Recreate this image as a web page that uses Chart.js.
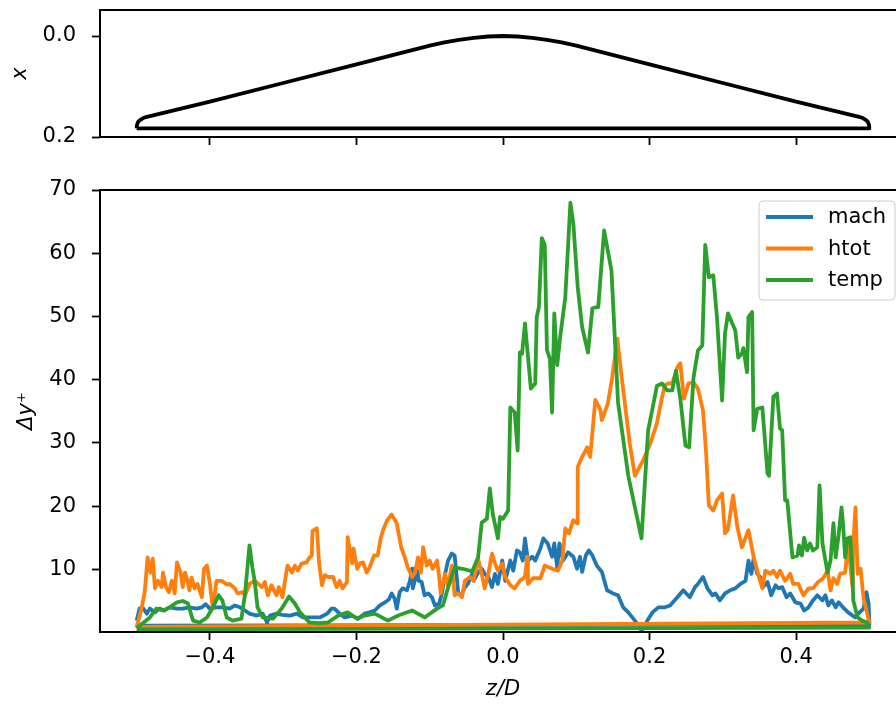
<!DOCTYPE html>
<html>
<head>
<meta charset="utf-8">
<script src="https://cdn.jsdelivr.net/npm/chart.js"></script>
<style>
  body { margin: 0; background: #fff; overflow: hidden; }
  #wrap { position: relative; width: 896px; height: 708px; overflow: hidden; }
  canvas { position: absolute; left: 0; }
</style>
</head>
<body>
<div id="wrap">
  <canvas id="shapeChart" width="920" height="150" style="top:0"></canvas>
  <canvas id="dyChart" width="920" height="558" style="top:150px"></canvas>
</div>
<script>
// surface shape, z/D vs x (upper side, then the flat bottom back)
const shape = [[-0.5,0.183],[-0.4995,0.176],[-0.498,0.170],[-0.495,0.166],[-0.491,0.1625],[-0.486,0.160],
  [-0.4,0.130],[-0.3,0.093],[-0.2,0.056],[-0.1,0.019],[-0.08,0.0125],[-0.06,0.0075],[-0.04,0.0035],[-0.02,0.001],[0,0],
  [0.02,0.001],[0.04,0.0035],[0.06,0.0075],[0.08,0.0125],[0.1,0.019],[0.2,0.056],[0.3,0.093],[0.4,0.130],
  [0.486,0.160],[0.491,0.1625],[0.495,0.166],[0.498,0.170],[0.4995,0.176],[0.5,0.183],[-0.5,0.183]]

// delta y+ along the surface, [z/D, value]
const mach = [[-0.500,1.9],[-0.496,3.8],[-0.492,4.0],[-0.486,3.0],[-0.482,3.8],[-0.475,3.2],[-0.469,3.8],[-0.462,3.5],
  [-0.455,4.0],[-0.445,3.8],[-0.437,3.8],[-0.428,4.0],[-0.418,3.8],[-0.411,4.0],[-0.406,4.5],[-0.400,3.8],[-0.391,4.0],
  [-0.383,4.0],[-0.373,3.8],[-0.366,4.3],[-0.359,4.0],[-0.352,3.5],[-0.346,3.0],[-0.336,2.7],[-0.328,3.0],[-0.322,1.6],
  [-0.318,2.7],[-0.309,3.0],[-0.301,2.8],[-0.291,2.7],[-0.281,3.0],[-0.273,2.4],[-0.264,2.4],[-0.250,2.4],[-0.240,3.0],
  [-0.234,3.8],[-0.230,3.8],[-0.223,3.0],[-0.216,2.4],[-0.206,2.7],[-0.198,2.2],[-0.189,3.0],[-0.182,3.2],[-0.175,3.5],
  [-0.168,4.3],[-0.161,4.8],[-0.156,5.2],[-0.152,6.2],[-0.148,5.4],[-0.145,3.8],[-0.141,6.4],[-0.137,7.0],[-0.131,6.7],
  [-0.127,8.2],[-0.124,10.1],[-0.123,7.0],[-0.117,9.8],[-0.115,8.2],[-0.111,8.0],[-0.107,5.9],[-0.102,6.2],[-0.097,5.6],
  [-0.093,4.3],[-0.087,4.6],[-0.083,6.4],[-0.079,9.3],[-0.075,11.4],[-0.070,12.5],[-0.066,12.2],[-0.061,6.2],[-0.057,5.9],
  [-0.052,7.2],[-0.048,7.7],[-0.042,9.3],[-0.040,8.2],[-0.034,9.5],[-0.029,10.1],[-0.025,9.3],[-0.020,8.8],[-0.015,7.2],
  [-0.011,9.3],[-0.007,7.7],[-0.001,11.4],[0.003,8.2],[0.010,11.4],[0.014,9.8],[0.019,13.0],[0.023,12.7],[0.027,11.4],
  [0.030,14.9],[0.034,11.4],[0.040,12.0],[0.044,11.4],[0.051,13.3],[0.055,14.9],[0.061,14.1],[0.067,12.0],[0.070,14.1],
  [0.074,10.3],[0.077,14.1],[0.082,11.4],[0.089,12.7],[0.096,12.0],[0.101,10.1],[0.105,12.0],[0.108,9.6],[0.113,12.2],
  [0.117,13.0],[0.122,12.2],[0.128,10.6],[0.135,9.6],[0.142,6.7],[0.150,6.2],[0.157,5.9],[0.164,4.0],[0.171,3.2],
  [0.180,1.9],[0.189,0.3],[0.197,1.9],[0.204,3.2],[0.212,4.0],[0.221,4.0],[0.228,4.3],[0.238,5.6],[0.246,6.7],[0.255,5.6],
  [0.262,7.2],[0.266,7.7],[0.273,8.8],[0.279,7.0],[0.286,5.9],[0.290,6.2],[0.296,5.1],[0.303,6.2],[0.310,6.7],[0.317,7.0],
  [0.324,7.7],[0.331,8.2],[0.335,11.4],[0.339,9.3],[0.342,11.7],[0.347,9.3],[0.351,8.8],[0.355,7.2],[0.361,8.0],[0.366,5.9],
  [0.372,7.5],[0.376,7.0],[0.381,7.2],[0.387,5.6],[0.392,6.2],[0.399,4.8],[0.406,4.6],[0.411,3.5],[0.417,4.0],[0.423,5.1],
  [0.429,5.9],[0.436,5.1],[0.440,5.9],[0.444,4.3],[0.449,5.1],[0.454,4.0],[0.458,4.8],[0.464,4.0],[0.471,3.2],[0.477,2.7],
  [0.481,2.4],[0.485,3.0],[0.492,3.8],[0.496,6.4],[0.499,4.6],[0.500,1.6],[0.500,1.3],[-0.500,1.1]]

const htot = [[-0.500,0.8],[-0.493,4.0],[-0.489,6.4],[-0.485,11.9],[-0.481,9.5],[-0.478,11.7],[-0.475,7.0],[-0.471,8.2],
  [-0.466,7.2],[-0.464,9.5],[-0.460,7.2],[-0.456,6.4],[-0.452,8.2],[-0.448,6.2],[-0.445,11.1],[-0.440,9.5],[-0.437,7.2],
  [-0.434,9.5],[-0.430,8.0],[-0.428,6.7],[-0.425,8.7],[-0.421,7.0],[-0.417,7.7],[-0.411,5.6],[-0.408,10.1],[-0.404,10.6],
  [-0.400,7.7],[-0.396,3.8],[-0.391,8.2],[-0.384,8.2],[-0.377,7.6],[-0.373,7.7],[-0.366,7.0],[-0.362,6.2],[-0.355,6.4],
  [-0.352,5.9],[-0.346,7.7],[-0.339,8.2],[-0.329,7.2],[-0.325,8.0],[-0.321,5.9],[-0.316,7.5],[-0.309,5.9],[-0.306,7.2],
  [-0.301,5.6],[-0.296,9.3],[-0.294,10.6],[-0.288,9.5],[-0.284,10.6],[-0.280,9.8],[-0.275,10.9],[-0.268,11.1],[-0.264,11.9],
  [-0.261,12.2],[-0.260,16.1],[-0.254,16.5],[-0.251,11.0],[-0.247,7.5],[-0.243,9.1],[-0.239,8.8],[-0.232,8.8],[-0.227,7.2],
  [-0.223,8.2],[-0.219,7.0],[-0.213,8.0],[-0.212,15.1],[-0.206,11.0],[-0.204,13.3],[-0.199,10.1],[-0.195,11.0],[-0.191,11.1],
  [-0.186,9.5],[-0.182,10.3],[-0.176,12.2],[-0.171,12.2],[-0.167,14.9],[-0.164,16.1],[-0.158,17.8],[-0.152,18.7],[-0.145,17.3],
  [-0.139,13.5],[-0.134,11.9],[-0.130,10.3],[-0.124,8.8],[-0.120,9.5],[-0.116,11.9],[-0.112,9.5],[-0.109,13.5],[-0.104,10.6],
  [-0.100,11.4],[-0.096,10.1],[-0.090,11.4],[-0.087,8.8],[-0.085,6.2],[-0.079,9.3],[-0.075,7.2],[-0.070,10.6],[-0.066,5.9],
  [-0.061,6.2],[-0.056,5.6],[-0.052,8.2],[-0.045,8.8],[-0.040,8.2],[-0.034,11.7],[-0.029,9.3],[-0.025,7.0],[-0.020,9.3],
  [-0.015,12.5],[-0.011,11.0],[-0.007,9.8],[-0.001,10.9],[0.003,8.8],[0.010,7.5],[0.016,7.0],[0.023,8.2],[0.030,8.8],
  [0.033,12.0],[0.034,7.7],[0.041,8.6],[0.051,8.6],[0.057,10.6],[0.067,10.1],[0.075,9.8],[0.081,11.4],[0.085,16.5],
  [0.090,15.7],[0.096,17.8],[0.101,17.3],[0.102,26.2],[0.108,27.8],[0.115,29.3],[0.119,27.8],[0.126,36.8],[0.133,35.2],
  [0.135,33.6],[0.143,36.2],[0.149,40.3],[0.156,46.5],[0.163,39.4],[0.173,29.9],[0.180,24.8],[0.191,27.2],[0.201,29.9],
  [0.210,33.1],[0.217,37.2],[0.221,39.1],[0.225,39.4],[0.231,39.4],[0.238,42.0],[0.242,42.6],[0.247,37.0],[0.253,39.4],
  [0.260,39.6],[0.266,38.6],[0.273,35.1],[0.277,28.8],[0.281,20.1],[0.287,19.3],[0.292,20.9],[0.299,22.0],[0.303,15.7],
  [0.307,16.3],[0.314,21.7],[0.320,16.6],[0.326,13.5],[0.335,16.2],[0.342,12.0],[0.348,9.3],[0.354,7.0],[0.358,9.8],
  [0.365,9.3],[0.369,9.8],[0.374,8.8],[0.378,9.8],[0.385,8.2],[0.392,9.3],[0.396,7.7],[0.403,7.7],[0.410,5.9],[0.417,7.0],
  [0.423,7.0],[0.430,8.0],[0.437,8.6],[0.443,9.8],[0.447,6.7],[0.451,8.6],[0.456,7.7],[0.460,9.3],[0.467,9.5],[0.471,14.1],
  [0.477,7.2],[0.478,14.1],[0.481,19.8],[0.484,9.3],[0.488,10.1],[0.492,5.5],[0.497,3.0],[0.500,1.6],[-0.500,0.9]]

const temp = [[-0.500,0.7],[-0.482,2.4],[-0.473,3.8],[-0.464,3.5],[-0.455,4.0],[-0.445,4.8],[-0.437,5.0],[-0.430,4.6],
  [-0.423,1.9],[-0.414,1.6],[-0.404,2.4],[-0.396,4.0],[-0.388,5.9],[-0.383,5.1],[-0.377,2.4],[-0.369,1.9],[-0.357,2.2],
  [-0.352,6.2],[-0.346,13.8],[-0.342,10.3],[-0.339,8.2],[-0.335,4.0],[-0.328,2.4],[-0.314,2.2],[-0.302,3.8],[-0.292,5.7],
  [-0.284,4.6],[-0.277,3.2],[-0.264,1.6],[-0.250,1.5],[-0.239,1.6],[-0.225,2.7],[-0.212,3.2],[-0.199,2.2],[-0.189,2.7],
  [-0.175,3.0],[-0.157,1.9],[-0.143,2.7],[-0.124,3.5],[-0.107,2.4],[-0.090,3.8],[-0.082,4.3],[-0.075,7.1],[-0.066,10.3],
  [-0.055,10.1],[-0.042,9.7],[-0.034,11.9],[-0.029,17.4],[-0.022,18.0],[-0.018,22.8],[-0.014,18.8],[-0.007,14.9],
  [-0.004,18.3],[0.000,18.0],[0.007,19.3],[0.010,35.6],[0.016,34.8],[0.020,28.8],[0.023,44.3],[0.026,44.1],[0.030,48.9],
  [0.038,38.6],[0.044,39.4],[0.046,49.9],[0.049,51.5],[0.053,62.4],[0.057,61.3],[0.060,44.7],[0.064,43.3],[0.067,34.8],
  [0.070,50.5],[0.074,42.3],[0.078,46.7],[0.085,53.0],[0.092,68.0],[0.096,64.7],[0.102,54.6],[0.108,48.3],[0.116,44.3],
  [0.122,51.3],[0.130,51.5],[0.138,63.6],[0.148,57.3],[0.157,36.4],[0.171,24.8],[0.189,14.9],[0.198,31.9],[0.210,39.0],
  [0.217,39.4],[0.224,38.3],[0.231,38.3],[0.236,41.4],[0.242,37.0],[0.249,29.6],[0.254,29.3],[0.260,40.3],[0.266,44.6],
  [0.272,45.4],[0.276,61.3],[0.281,56.2],[0.287,56.5],[0.292,49.9],[0.299,36.7],[0.303,47.3],[0.307,50.5],[0.317,47.8],
  [0.321,43.5],[0.326,44.1],[0.328,45.0],[0.333,41.2],[0.335,49.9],[0.340,50.7],[0.342,32.0],[0.347,35.4],[0.354,35.6],
  [0.361,25.2],[0.363,24.8],[0.369,37.3],[0.374,37.8],[0.378,32.3],[0.381,32.0],[0.385,20.9],[0.388,20.9],[0.395,11.9],
  [0.402,12.2],[0.404,13.8],[0.408,12.2],[0.411,15.0],[0.415,13.0],[0.419,14.1],[0.423,13.0],[0.429,13.5],[0.432,23.3],
  [0.436,14.1],[0.443,9.5],[0.447,11.4],[0.451,17.3],[0.454,11.9],[0.458,15.4],[0.462,19.8],[0.464,17.3],[0.467,11.9],
  [0.470,14.9],[0.474,15.1],[0.477,9.4],[0.478,5.1],[0.484,2.4],[0.490,1.9],[0.497,1.6],[0.500,0.8],[-0.500,0.5]]

const seriesNames = ['mach', 'htot', 'temp']
const seriesColors = ['#1f77b4', '#ff7f0e', '#2ca02c']
const zTicks = [-0.4, -0.2, 0.0, 0.2, 0.4]
const dyTicks = [10, 20, 30, 40, 50, 60, 70]
const shapeTicks = [0.0, 0.2]

const font = 'DejaVu Sans'
const fmt = v => v.toFixed(1).replace('-', '\u2212')
const toPts = arr => arr.map(p => ({x: p[0], y: p[1]}))

// no extra room for end labels, the axes box is placed by hand
const noPad = s => { s.paddingTop = 0; s.paddingBottom = 0; s.paddingLeft = 0; s.paddingRight = 0 }

// matplotlib-style closed box around the axes
const boxPlugin = {
  id: 'box',
  afterDraw(chart) {
    const {ctx, chartArea: a} = chart
    ctx.save()
    ctx.strokeStyle = '#000'
    ctx.lineWidth = 2
    ctx.strokeRect(a.left, a.top, a.right - a.left, a.bottom - a.top)
    ctx.restore()
  }
}

// legend box in the upper right corner
const legendPlugin = {
  id: 'mplLegend',
  afterDraw(chart) {
    const {ctx, chartArea: a} = chart
    const w = 136, h = 99
    const x0 = a.right - 11 - w, y0 = a.top + 11
    ctx.save()
    ctx.beginPath()
    ctx.roundRect(x0, y0, w, h, 4)
    ctx.fillStyle = 'rgba(255,255,255,0.8)'
    ctx.fill()
    ctx.strokeStyle = '#cccccc'
    ctx.lineWidth = 1
    ctx.stroke()
    ctx.font = '21px "' + font + '"'
    ctx.textBaseline = 'middle'
    ctx.lineWidth = 3.8
    seriesNames.forEach((name, i) => {
      const y = y0 + 16 + i * 31.5
      ctx.strokeStyle = seriesColors[i]
      ctx.beginPath()
      ctx.moveTo(x0 + 7, y)
      ctx.lineTo(x0 + 54, y)
      ctx.stroke()
      ctx.fillStyle = '#000'
      ctx.fillText(name, x0 + 69, y + 1)
    })
    ctx.restore()
  }
}

const tickGrid = {display: true, drawOnChartArea: false, drawTicks: true, tickLength: 8, tickWidth: 1.8, tickColor: '#000'}

new Chart(document.getElementById('shapeChart'), {
  type: 'scatter',
  data: {
    datasets: [{
      data: toPts(shape),
      showLine: true,
      borderColor: '#000',
      borderWidth: 3.8,
      pointRadius: 0,
      borderJoinStyle: 'round'
    }]
  },
  options: {
    responsive: false,
    animation: false,
    layout: {padding: {top: 10, right: 14, left: 0, bottom: 0}},
    plugins: {legend: {display: false}, tooltip: {enabled: false}},
    scales: {
      x: {
        type: 'linear', min: -0.55, max: 0.55,
        grid: tickGrid, border: {display: false},
        ticks: {display: false},
        afterBuildTicks: s => { s.ticks = zTicks.map(v => ({value: v})) },
        afterFit: s => { s.height = 13; noPad(s) }
      },
      y: {
        type: 'linear', reverse: true, min: -0.0515, max: 0.2,
        grid: tickGrid, border: {display: false},
        ticks: {color: '#000', padding: 16, font: {family: font, size: 21}, callback: v => fmt(v)},
        afterBuildTicks: s => { s.ticks = shapeTicks.map(v => ({value: v})) },
        afterFit: s => { s.width = 100; noPad(s) },
        title: {display: true, text: 'x', color: '#000', padding: {top: 8}, font: {family: font, size: 21, style: 'italic'}}
      }
    }
  },
  plugins: [boxPlugin]
})

const series = [mach, htot, temp]
new Chart(document.getElementById('dyChart'), {
  type: 'scatter',
  data: {
    datasets: series.map((s, i) => ({
      label: seriesNames[i],
      data: toPts(s),
      showLine: true,
      borderColor: seriesColors[i],
      backgroundColor: seriesColors[i],
      borderWidth: 3.8,
      pointRadius: 0,
      borderJoinStyle: 'round',
      order: series.length - i
    }))
  },
  options: {
    responsive: false,
    animation: false,
    layout: {padding: {top: 40, right: 14, left: 0, bottom: 0}},
    plugins: {legend: {display: false}, tooltip: {enabled: false}},
    scales: {
      x: {
        type: 'linear', min: -0.55, max: 0.55,
        grid: tickGrid, border: {display: false},
        ticks: {color: '#000', padding: 5, maxRotation: 0, font: {family: font, size: 21}, callback: v => fmt(v)},
        afterBuildTicks: s => { s.ticks = zTicks.map(v => ({value: v})) },
        afterFit: s => { s.height = 76; noPad(s) },
        title: {display: true, text: 'z/D', color: '#000', padding: {bottom: 6}, font: {family: font, size: 21, style: 'italic'}}
      },
      y: {
        type: 'linear', min: 0.1, max: 70,
        grid: tickGrid, border: {display: false},
        ticks: {color: '#000', padding: 16, font: {family: font, size: 21}, callback: v => String(v)},
        afterBuildTicks: s => { s.ticks = dyTicks.map(v => ({value: v})) },
        afterFit: s => { s.width = 100; noPad(s) },
        title: {display: true, text: '\u0394y\u207A', color: '#000', padding: {top: 14}, font: {family: font, size: 21, style: 'italic'}}
      }
    }
  },
  plugins: [boxPlugin, legendPlugin]
})
</script>
</body>
</html>
